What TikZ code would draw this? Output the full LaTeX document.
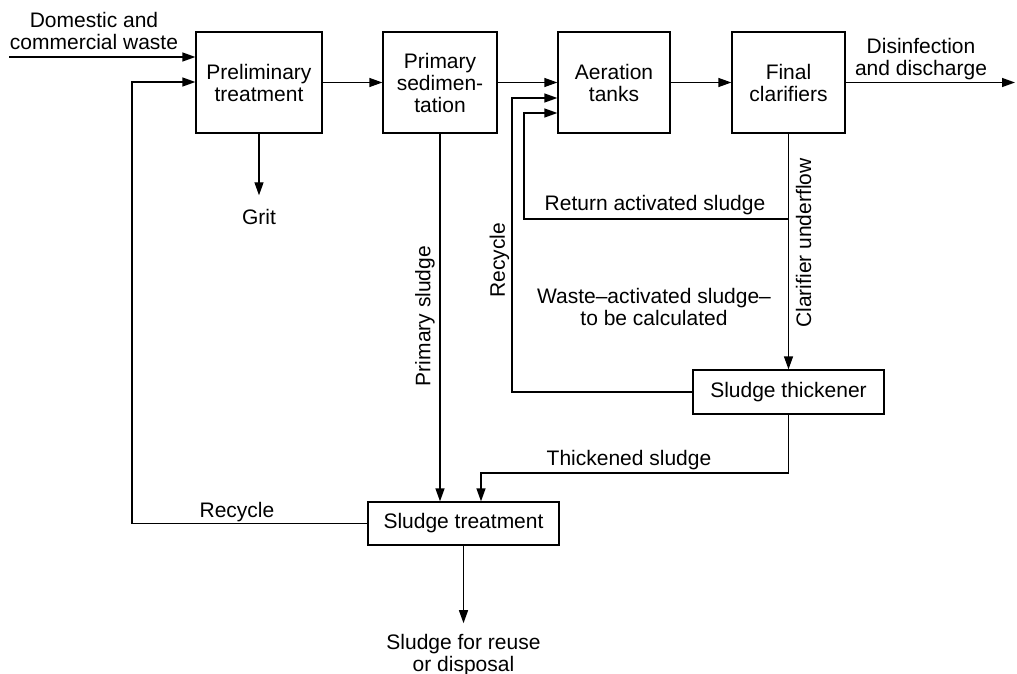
\documentclass[tikz,border=0pt]{standalone}
\usepackage{fontspec}
\setmainfont{Liberation Sans}
\usetikzlibrary{arrows.meta,calc}

\begin{document}
\begin{tikzpicture}[x=0.5pt,y=-0.5pt,
  font=\fontsize{10.5}{11}\selectfont,
  line width=0.65pt,
  flow/.style={-{Triangle[length=6.5pt,width=4.5pt]}},
  unit/.style={draw,inner sep=0pt,align=center},
  txt/.style={align=center,inner sep=0pt}]
\useasboundingbox (0,0) rectangle (1017,674);
% process units
\node[unit,minimum width=63pt,minimum height=50.5pt] (prelim) at (259,82.5) {Preliminary\\treatment};
\node[unit,minimum width=57pt,minimum height=50.5pt] (primsed) at (440,82.5) {Primary\\sedimen-\\tation};
\node[unit,minimum width=56pt,minimum height=50.5pt] (aer) at (614,82.5) {Aeration\\tanks};
\node[unit,minimum width=56.5pt,minimum height=50.5pt] (fin) at (788.5,82.5) {Final\\clarifiers};
\node[unit,minimum width=95.5pt,minimum height=22pt] (thick) at (788.5,392) {Sludge thickener};
\node[unit,minimum width=95.5pt,minimum height=21.5pt] (treat) at (463.5,523.5) {Sludge treatment};
% texts
\node[txt] (wastein) at (94,31) {Domestic and\\commercial waste};
\node[txt] (disch) at (921,59.5) {Disinfection\\and discharge};
\node[txt,outer sep=7pt] (grit) at (259,217) {Grit};
\node[txt] (raslbl) at (655,205.5) {Return activated sludge};
\node[txt] (waslbl) at (654,306.5) {Waste–activated sludge–\\to be calculated};
\node[txt] (thklbl) at (629,460.5) {Thickened sludge};
\node[txt] (rcylbl) at (237,512.5) {Recycle};
\node[txt,outer sep=5.5pt] (reuse) at (463.5,655) {Sludge for reuse\\or disposal};
\node[txt,rotate=90] (rcyvlbl) at (499.5,260) {Recycle};
\node[txt,rotate=90] (psllbl) at (425,316) {Primary sludge};
\node[txt,rotate=90] (culbl) at (803.5,243) {Clarifier underflow};
% free ends and bends
\coordinate (in) at (9,57);
\coordinate (out) at (1015,82.5);
\coordinate (rc1) at (132,82);
\coordinate (rc2) at (512,98);
\coordinate (ras) at (524,113);
\coordinate (cu) at (788.5,219);
\coordinate (thk) at (481,473);
% flows
\draw[flow] (in) -- (in -| prelim.west);
\draw[flow] (treat.west) -| (rc1) -- (rc1 -| prelim.west);
\draw[flow] (prelim.east) -- (primsed.west);
\draw[flow] (prelim.south) -- (grit.north);
\draw[flow] (primsed.east) -- (aer.west);
\draw[flow] (thick.west) -| (rc2) -- (rc2 -| aer.west);
\draw[flow] (cu) -| (ras) -- (ras -| aer.west);
\draw[flow] (aer.east) -- (fin.west);
\draw[flow] (fin.east) -- (out);
\draw[flow] (fin.south) -- (thick.north);
\draw[flow] (primsed.south) -- (primsed.south |- treat.north);
\draw[flow] (thick.south) |- (thk) -- (thk |- treat.north);
\draw[flow] (treat.south) -- (reuse.north);
\end{tikzpicture}
\end{document}
